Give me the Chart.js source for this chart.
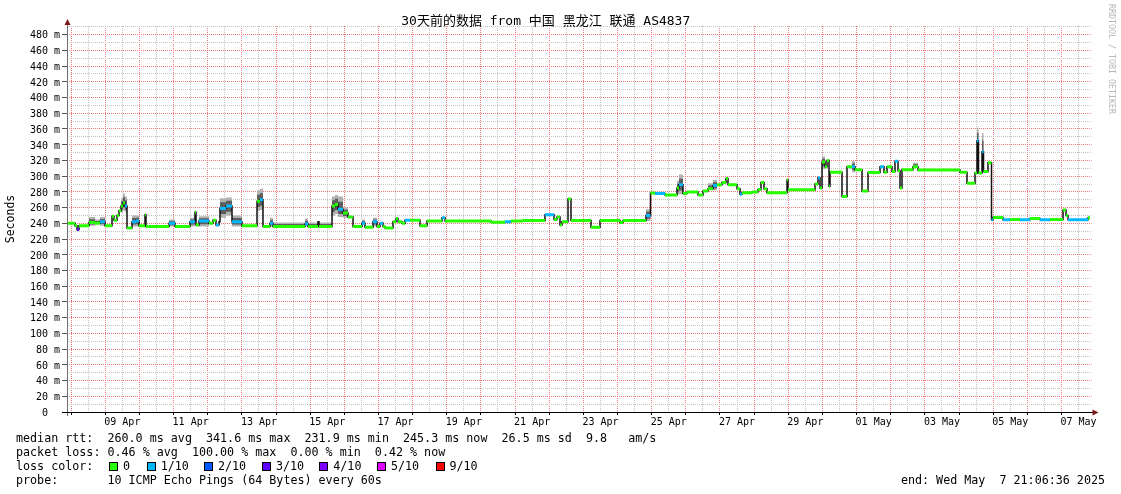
<!DOCTYPE html>
<html><head><meta charset="utf-8">
<script src="https://cdn.jsdelivr.net/npm/chart.js@4/dist/chart.umd.min.js"></script>
<style>
html,body{margin:0;padding:0;background:#fff;}
#wrap{position:relative;width:1121px;height:494px;overflow:hidden;background:#fff;}
#c{position:absolute;left:0;top:0;}
.t{position:absolute;font-family:'DejaVu Sans Mono',monospace;font-size:11.7px;white-space:pre;color:#000;line-height:14px;}
.box{position:absolute;width:9px;height:9px;border:1px solid #000;box-sizing:border-box;top:462px;}
#wm{position:absolute;left:1107px;top:4px;font-family:'DejaVu Sans Mono',monospace;font-size:8.3px;color:#b8b8b8;writing-mode:vertical-rl;white-space:pre;line-height:10px;}
</style></head><body>
<div id="wrap">
<canvas id="c" width="1121" height="494"></canvas>
<div id="wm">RRDTOOL / TOBI OETIKER</div>
<div class="t" id="l1" style="left:16px;top:431px;"></div>
<div class="t" id="l2" style="left:16px;top:445px;"></div>
<div class="t" id="l3" style="left:16px;top:459px;"></div>
<div class="t" id="l4" style="left:16px;top:473px;"></div>
<div class="t" id="l4r" style="right:16px;top:473px;"></div>
</div>
<script>
// ---------------- data (days since start = Apr 7 21:06:36) ----------------
const chartTitle = '30天前的数据 from 中国 黑龙江 联通 AS4837';
const startMidnightOffset = 0.120417; // Apr 8 00:00 relative to start, in days
const xTickLabels = ['09 Apr','11 Apr','13 Apr','15 Apr','17 Apr','19 Apr','21 Apr','23 Apr','25 Apr','27 Apr','29 Apr','01 May','03 May','05 May','07 May'];
const yMajorTicks = [0,20,40,60,80,100,120,140,160,180,200,220,240,260,280,300,320,340,360,380,400,420,440,460,480];
const times = [0,0.234,0.293,0.351,0.644,0.820,0.966,1.113,1.318,1.376,
1.464,1.523,1.581,1.640,1.698,1.757,1.903,2.021,2.108,2.284,
2.313,2.987,3.163,3.602,3.748,3.778,3.865,4.158,4.275,4.363,
4.451,4.480,4.656,4.832,5.124,5.564,5.652,5.739,5.944,6.032,
6.969,7.057,7.350,7.379,7.760,7.848,7.936,8.082,8.228,8.375,
8.638,8.726,8.961,9.078,9.166,9.253,9.312,9.546,9.634,9.693,
9.810,9.898,10.044,10.337,10.542,10.981,11.069,12.416,12.826,13.002,
13.353,13.997,14.261,14.349,14.436,14.495,14.671,14.758,15.344,15.608,
16.193,16.281,16.955,17.086,17.218,17.511,17.862,17.921,18.038,18.155,
18.477,18.624,18.770,18.917,19.034,19.180,19.297,19.356,19.619,19.707,
19.766,20.059,20.234,20.322,20.410,20.498,21.084,21.113,21.904,21.991,
22.050,22.109,22.197,22.255,22.314,22.343,22.694,22.841,22.987,23.075,
23.280,23.456,23.807,23.924,24.012,24.158,24.246,24.334,24.393,24.451,
24.773,24.920,26.149,26.354,26.589,26.647,26.691,26.794,26.838,26.969,
27.072,27.116,27.409,27.614,27.907,28.200,28.493,28.785,29.166,29.254,
29.312,29.898];
const endTime = 29.956;
const median = [240,237,232,237,241,240,242,237,249,244,
250,256,262,266,262,234,242,243,237,251,
236,240,236,242,254,238,243,240,244,238,
242,259,262,242,237,268,270,236,240,236,
239,236,242,236,262,264,258,253,248,236,
240,235,242,236,240,236,234,242,246,242,
240,244,244,237,243,247,243,241.5,242,243,
243.5,251,245,248,238,242,271,243.5,235,243.5,
241,243.5,250,278.5,278,276,285,289,278,280,
276,281,284,288,289,292,297,289,284,277,
279,280,283,292,284,279,295,282.6,290,298,
285,318,312,320,287,305,274,312,312,308,
281,304.6,312,305,312,306,319,307,285,308,
312,307.7,305,291,304,345,304,331,306,317,
244.5,247.4,244.5,245,244.5,246,244.5,245,257,250,
244.5,247];
const loss = [0,0,3,0,0,0,1,0,0,0,
0,0,0,0,1,0,1,1,0,0,
0,1,0,1,0,0,1,0,0,1,
0,1,1,1,0,0,1,0,1,0,
1,0,0,0,0,0,1,0,0,0,
1,0,1,0,1,0,0,0,0,0,
0,1,0,0,0,1,0,0,1,0,
0,1,0,0,0,0,0,0,0,0,
0,0,1,0,1,0,0,1,0,0,
0,0,0,1,0,0,0,0,0,1,
0,0,0,0,0,0,0,0,0,1,
0,0,0,0,0,0,0,0,1,0,
0,0,1,0,0,0,1,0,0,0,
0,0,0,0,0,1,0,1,0,0,
1,0,1,0,1,0,1,0,0,0,
1,0];
const _ = null;
const smokeHi = [_,_,_,_,248,245,248,_,_,_,
_,_,272,278,274,_,250,250,_,_,
_,245,_,247,_,_,249,_,_,_,
_,272,273,250,_,282,284,_,247,241,
246,241,_,241,274,276,274,260,_,_,
245,_,247,_,_,_,_,_,_,_,
_,_,_,_,_,_,_,_,_,_,
_,_,_,_,_,_,_,_,_,_,
_,_,258,_,_,_,294,302,_,_,
_,_,291,295,_,_,_,_,_,_,
_,_,_,_,_,_,_,_,_,_,
_,325,_,_,_,_,_,_,319,_,
_,_,_,_,_,_,_,_,_,_,
317,_,_,_,_,362,_,355,_,_,
_,_,_,_,_,_,_,_,_,_,
_,_];
const smokeLo = [_,_,_,_,237,_,237,_,_,_,
_,_,254,256,254,_,236,236,_,_,
_,236,_,236,_,_,236,_,_,_,
_,247,250,236,_,256,257,_,236,_,
236,_,_,_,250,252,248,247,_,_,
_,_,236,_,_,_,_,_,_,_,
_,_,_,_,_,_,_,_,_,_,
_,_,_,_,_,_,_,_,_,_,
_,_,243,_,_,_,277,277,_,_,
_,_,_,282,_,_,_,_,_,_,
_,_,_,_,_,_,_,_,_,_,
_,309,_,_,_,_,_,_,305,_,
_,_,_,_,_,_,_,_,_,_,
_,_,_,_,_,328,_,318,_,_,
_,_,_,_,_,_,_,_,_,_,
_,_];
const lossColors = ['#26ff00','#00b8ff','#0059ff','#5e00ff','#7e00ff','#dd00ff','#dd00ff','#dd00ff','#dd00ff','#ff0000','#ff0000'];
const legendLoss = [['0',0],['1/10',1],['2/10',2],['3/10',3],['4/10',4],['5/10',5],['9/10',9]];
const statsLine1 = 'median rtt:  260.0 ms avg  341.6 ms max  231.9 ms min  245.3 ms now  26.5 ms sd  9.8   am/s';
const statsLine2 = 'packet loss: 0.46 % avg  100.00 % max  0.00 % min  0.42 % now';
const probeLine = 'probe:       10 ICMP Echo Pings (64 Bytes) every 60s';
const endLine = 'end: Wed May  7 21:06:36 2025';

// ---------------- build library tables ----------------
function stepPts(vals){
  const p = times.map((t,i)=>({x:t,y:vals[i]}));
  p.push({x:endTime,y:vals[vals.length-1]});
  return p;
}
const hiVals = median.map((m,i)=> smokeHi[i]==null ? m : smokeHi[i]);
const loVals = median.map((m,i)=> smokeLo[i]==null ? m : smokeLo[i]);
const hiInner = median.map((m,i)=> m + (hiVals[i]-m)*0.6);
const loInner = median.map((m,i)=> m - (m-loVals[i])*0.6);
const segPts = [];
times.forEach((t,i)=>{
  const t2 = i+1<times.length ? times[i+1] : endTime;
  segPts.push({x:t,y:median[i]},{x:t2,y:median[i]},{x:t2,y:null});
});
const xGrid = [];
for(let k=0;k<60;k++) xGrid.push(startMidnightOffset + 0.5*k);
const xLabelAt = {};
xTickLabels.forEach((l,j)=>{ xLabelAt[(startMidnightOffset+1.5+2*j).toFixed(3)] = l; });
const yGrid = [];
yMajorTicks.forEach(v=>{ yGrid.push(v); if(v<480) yGrid.push(v+10); });
yGrid.push(490);

const MONO = "'DejaVu Sans Mono','Noto Sans CJK SC',monospace";
const MAJOR = 'rgb(240,120,120)';
const MINOR = 'rgb(195,195,195)';

const axesPlugin = {
  id:'rrdAxes',
  afterDraw(chart){
    const {ctx, chartArea:a} = chart;
    ctx.save();
    ctx.lineWidth = 1;
    ctx.strokeStyle = '#707070';
    ctx.beginPath(); ctx.moveTo(a.left+0.5, a.bottom+4); ctx.lineTo(a.left+0.5, a.top-3); ctx.stroke();
    ctx.strokeStyle = '#000';
    ctx.beginPath(); ctx.moveTo(a.left-5, a.bottom+0.5); ctx.lineTo(a.right+2, a.bottom+0.5); ctx.stroke();
    ctx.fillStyle = '#801818';
    ctx.beginPath(); ctx.moveTo(a.left+0.5, a.top-7); ctx.lineTo(a.left-2.5, a.top-1); ctx.lineTo(a.left+3.5, a.top-1); ctx.closePath(); ctx.fill();
    ctx.beginPath(); ctx.moveTo(a.right+7, a.bottom+0.5); ctx.lineTo(a.right+1, a.bottom-2.5); ctx.lineTo(a.right+1, a.bottom+3.5); ctx.closePath(); ctx.fill();
    ctx.restore();
  }
};

const common = {pointRadius:0, pointHoverRadius:0, stepped:true, tension:0};
new Chart(document.getElementById('c'), {
  type:'line',
  data:{datasets:[
    Object.assign({data:stepPts(hiVals), borderWidth:0, borderColor:'rgba(0,0,0,0)', fill:'+1', backgroundColor:'#b2b2b2', order:6}, common),
    Object.assign({data:stepPts(loVals), borderWidth:0, borderColor:'rgba(0,0,0,0)', fill:false, order:6}, common),
    Object.assign({data:stepPts(hiInner), borderWidth:0, borderColor:'rgba(0,0,0,0)', fill:'+1', backgroundColor:'#5e5e5e', order:5}, common),
    Object.assign({data:stepPts(loInner), borderWidth:0, borderColor:'rgba(0,0,0,0)', fill:false, order:5}, common),
    Object.assign({data:stepPts(median), borderWidth:1.5, borderColor:'#111', fill:false, order:2}, common),
    {data:segPts, pointRadius:0, pointHoverRadius:0, borderWidth:3, fill:false, order:1, spanGaps:false,
     borderColor:lossColors[0],
     segment:{borderColor: c => lossColors[loss[Math.floor(c.p0DataIndex/3)]]}}
  ]},
  options:{
    responsive:false, animation:false, events:[],
    layout:{padding:{left:0,right:29.5,top:0,bottom:0}},
    plugins:{
      legend:{display:false}, tooltip:{enabled:false},
      title:{display:true, text:chartTitle, color:'#000',
        font:{family:MONO, size:13, weight:'normal', lineHeight:1},
        padding:{top:15.5,bottom:-2.5}}
    },
    scales:{
      x:{type:'linear', min:0, max:30,
        afterFit(s){ s.height = 82; },
        afterBuildTicks(s){ s.ticks = xGrid.map(v=>({value:v})); },
        ticks:{autoSkip:false, maxRotation:0, minRotation:0, padding:1, color:'#000',
          font:{family:MONO, size:10},
          callback:(v)=> xLabelAt[Number(v).toFixed(3)] || ''},
        grid:{lineWidth:1, tickLength:3, tickBorderDash:[],
          color: c => (c.index % 2 === 0) ? MAJOR : MINOR,
          tickColor: c => (c.index % 2 === 0) ? '#000' : 'rgba(0,0,0,0)'},
        border:{display:false, dash:[1,1]}
      },
      y:{type:'linear', min:0, max:491,
        afterFit(s){ s.width = 67; },
        afterBuildTicks(s){ s.ticks = yGrid.map(v=>({value:v})); },
        ticks:{autoSkip:false, padding:2, labelOffset:1.2, color:'#000', font:{family:MONO, size:10},
          callback:(v)=> v%20!==0 ? '' : (v===0 ? '0  ' : v+' m')},
        grid:{lineWidth:1, tickLength:5, tickBorderDash:[],
          color: c => (c.index % 2 === 0) ? MAJOR : MINOR,
          tickColor: c => (c.index % 2 === 0) ? '#555' : 'rgba(0,0,0,0)'},
        border:{display:false, dash:[1,1]},
        title:{display:true, text:'Seconds', color:'#000', font:{family:MONO, size:11.5, lineHeight:1.2}, padding:{top:4,bottom:0}}
      }
    }
  },
  plugins:[axesPlugin]
});

// ---------------- text legend ----------------
document.getElementById('l1').textContent = statsLine1;
document.getElementById('l2').textContent = statsLine2;
document.getElementById('l3').textContent = 'loss color:';
document.getElementById('l4').textContent = probeLine;
document.getElementById('l4r').textContent = endLine;
const wrap = document.getElementById('wrap');
const boxX = [109,146.7,204,262,319.3,377,435.5];
legendLoss.forEach(([txt,idx],j)=>{
  const b = document.createElement('div'); b.className='box';
  b.style.left = boxX[j]+'px'; b.style.background = lossColors[idx]; wrap.appendChild(b);
  const s = document.createElement('div'); s.className='t';
  s.style.left = (boxX[j]+14)+'px'; s.style.top='459px'; s.textContent = txt; wrap.appendChild(s);
});
</script>
</body></html>
